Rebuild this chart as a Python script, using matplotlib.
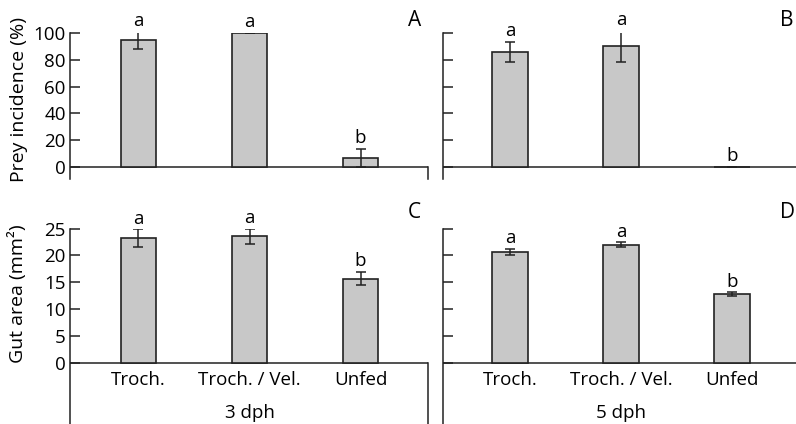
import matplotlib
matplotlib.use("Agg")
import matplotlib.pyplot as plt
from matplotlib.transforms import offset_copy

plt.rcParams['font.family'] = ['Open Sans', 'DejaVu Sans']

categories = ["Troch.", "Troch. / Vel.", "Unfed"]
ages = ["3 dph", "5 dph"]

prey_3 = [94.5, 100.0, 7.0]
prey_3_err = [6.6, 0.0, 6.7]
prey_5 = [86.0, 90.0, 0.0]
prey_5_err = [7.5, 11.5, 0.0]
prey_letters_3 = ["a", "a", "b"]
prey_letters_5 = ["a", "a", "b"]

gut_3 = [23.2, 23.6, 15.7]
gut_3_err = [1.7, 1.4, 1.3]
gut_5 = [20.7, 22.0, 12.75]
gut_5_err = [0.6, 0.5, 0.35]
gut_letters_3 = ["a", "a", "b"]
gut_letters_5 = ["a", "a", "b"]

prey_ticks = [0, 20, 40, 60, 80, 100]
gut_ticks = [0, 5, 10, 15, 20, 25]

W, H = 796, 424
fig = plt.figure(figsize=(W / 100, H / 100), dpi=100)

def fr(x0, y0, x1, y1):
    return [x0 / W, 1 - y1 / H, (x1 - x0) / W, (y1 - y0) / H]

ax_a = fig.add_axes(fr(70, 33, 427.7, 179))
ax_b = fig.add_axes(fr(443, 33, 796, 179))
ax_c = fig.add_axes(fr(70, 228.7, 427.7, 424))
ax_d = fig.add_axes(fr(443, 228.7, 796, 424))

bar_color = "#c8c8c8"
edge = "#222222"
fs = 13.5

def panel(ax, vals, errs, letters, ticks, ylow, left_panel, show_labels, xr):
    xs = list(range(len(categories)))
    ax.bar(xs, vals, width=0.32, color=bar_color, edgecolor=edge, linewidth=1.2, zorder=2)
    ax.errorbar(xs, vals, yerr=errs, fmt='none', ecolor=edge, elinewidth=1.1,
                capsize=3.5, capthick=1.1, zorder=3)
    tr = offset_copy(ax.transData, fig=fig, x=0, y=4, units='points')
    for x, v, e, l in zip(xs, vals, errs, letters):
        ax.text(x, v + e, l, transform=tr, ha='center', va='baseline', fontsize=fs)
    ax.set_xlim(*xr)
    top = ticks[-1]
    ax.set_ylim(ylow, top)
    ax.axhline(0, color=edge, linewidth=1.1, zorder=1)
    for s in ['top', 'bottom']:
        ax.spines[s].set_visible(False)
    ax.spines['left'].set_bounds(ylow, top)
    ax.spines['left'].set_linewidth(1.1)
    ax.spines['left'].set_color(edge)
    if left_panel:
        ax.spines['right'].set_bounds(ylow, 0)
        ax.spines['right'].set_linewidth(1.1)
        ax.spines['right'].set_color(edge)
    else:
        ax.spines['right'].set_visible(False)
    ax.set_xticks([])
    ax.set_yticks(ticks)
    ax.tick_params(axis='y', direction='in', length=7, width=1.1, color=edge,
                   labelsize=fs, pad=3, labelleft=show_labels)
    ax.patch.set_alpha(0)

xr_left = (-0.617, 2.605)
xr_right = (-0.604, 2.577)

panel(ax_a, prey_3, prey_3_err, prey_letters_3, prey_ticks, -9.0, True, True, xr_left)
panel(ax_b, prey_5, prey_5_err, prey_letters_5, prey_ticks, -9.0, False, False, xr_right)
panel(ax_c, gut_3, gut_3_err, gut_letters_3, gut_ticks, -11.45, True, True, xr_left)
panel(ax_d, gut_5, gut_5_err, gut_letters_5, gut_ticks, -11.45, False, False, xr_right)

for ax, age in ((ax_c, ages[0]), (ax_d, ages[1])):
    for i, c in enumerate(categories):
        ax.text(i, -3.2, c, ha='center', va='center', fontsize=fs)
    ax.text(1, -9.4, age, ha='center', va='center', fontsize=fs)

fig.text(19 / W, 1 - 100 / H, "Prey incidence (%)", rotation=90, ha='center', va='center', fontsize=14)
fig.text(18 / W, 1 - 294 / H, "Gut area (mm²)", rotation=90, ha='center', va='center', fontsize=14)

for lbl, x, y in (("A", 415, 20), ("B", 787, 20), ("C", 414, 213), ("D", 787, 213)):
    fig.text(x / W, 1 - y / H, lbl, ha='center', va='center', fontsize=15)

fig.savefig("out.png", dpi=100)
